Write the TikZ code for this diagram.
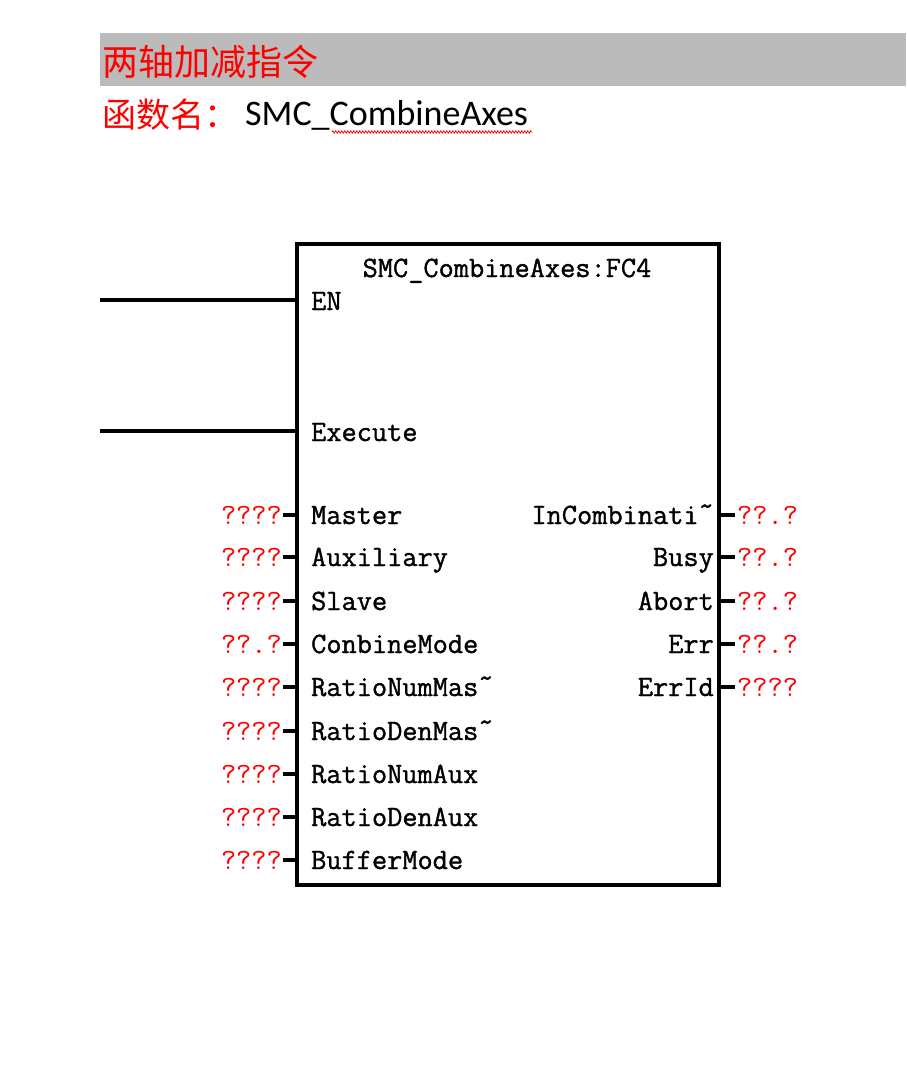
\documentclass[tikz,border=0pt]{standalone}
\usepackage{fontspec}
\usepackage{graphicx}
\usetikzlibrary{decorations.pathmorphing}
\newfontfamily\cjk{Noto Sans CJK SC}
\newfontfamily\calfont{Carlito}
\newfontfamily\plcmono{Latin Modern Mono}
\newfontfamily\plcmonob[FakeBold=1.2]{Latin Modern Mono}
\newcommand\plc{\plcmono\fontsize{29.5}{30}\selectfont}
\newcommand\plcb{\plcmonob\fontsize{29.5}{30}\selectfont}
\newcommand\tld{\raisebox{.3em}{\textasciitilde}}
\definecolor{barg}{RGB}{187,187,187}
\definecolor{pred}{RGB}{255,0,0}
\begin{document}
\begin{tikzpicture}[x=1pt,y=-1pt,
  pinl/.style={font=\plcb, inner sep=0pt, anchor=base west},
  pinr/.style={font=\plcb, inner sep=0pt, anchor=base east},
  vall/.style={font=\plc, text=pred, inner sep=0pt, anchor=base east},
  valr/.style={font=\plc, text=pred, inner sep=0pt, anchor=base west},
  wire/.style={line width=3.5pt},
  stub/.style={line width=4.5pt}]
\useasboundingbox (0,0) rectangle (906,1074);
\fill[barg] (100,33) rectangle (906,86);
\node[anchor=base west, inner sep=0pt, text=pred, font=\cjk\fontsize{36}{36}\selectfont] (title) at (102,75) {两轴加减指令};
\node[anchor=base west, inner sep=0pt, text=pred, font=\cjk\fontsize{34}{34}\selectfont] (fnlab) at (102,127) {函数名：};
\node[anchor=base west, inner sep=0pt, font=\calfont\fontsize{36}{36}\selectfont] (fname) at (245,125) {SMC\_CombineAxes};
\coordinate (wv1) at (332,132);
\coordinate (wv2) at (532,132);
\draw[pred, line width=0.8pt, decorate, decoration={zigzag, segment length=3pt, amplitude=1.1pt}] (wv1) -- (wv2);
% function block
\node[draw, line width=3.5pt, inner sep=0pt, outer sep=0pt, minimum width=422pt, minimum height=641pt, anchor=north west] (fb) at (297,244) {};
\node[font=\plcb, inner sep=0pt, anchor=base] (hdr) at (507,277) {SMC\_CombineAxes:FC4};
\node[pinl] (en) at (311,310) {EN};
\node[pinl] (ex) at (311,441) {Execute};
\coordinate (enw) at (100,300);
\coordinate (exw) at (100,431);
\draw[wire] (enw) -- (fb.west |- enw);
\draw[wire] (exw) -- (fb.west |- exw);
% inputs
\foreach \y/\nm/\lab/\v in {515/i1/Master/????, 557/i2/Auxiliary/????, 601/i3/Slave/????, 644/i4/ConbineMode/??.?, 687/i5/RatioNumMas\tld/????, 731/i6/RatioDenMas\tld/????, 774/i7/RatioNumAux/????, 817/i8/RatioDenAux/????, 860/i9/BufferMode/????}{
  \node[pinl] (\nm) at (311,\y+9) {\lab};
  \coordinate (\nm s) at (283,\y);
  \node[vall] (\nm v) at (282,\y+9) {\v};
  \draw[stub] (\nm s) -- (fb.west |- \nm s);
}
% outputs
\foreach \y/\nm/\lab/\v in {515/o1/InCombinati\tld/??.?, 557/o2/Busy/??.?, 601/o3/Abort/??.?, 644/o4/Err/??.?, 687/o5/ErrId/????}{
  \node[pinr] (\nm) at (714,\y+9) {\lab};
  \coordinate (\nm s) at (735,\y);
  \node[valr] (\nm v) at (737,\y+9) {\v};
  \draw[stub] (fb.east |- \nm s) -- (\nm s);
}
\end{tikzpicture}
\end{document}
